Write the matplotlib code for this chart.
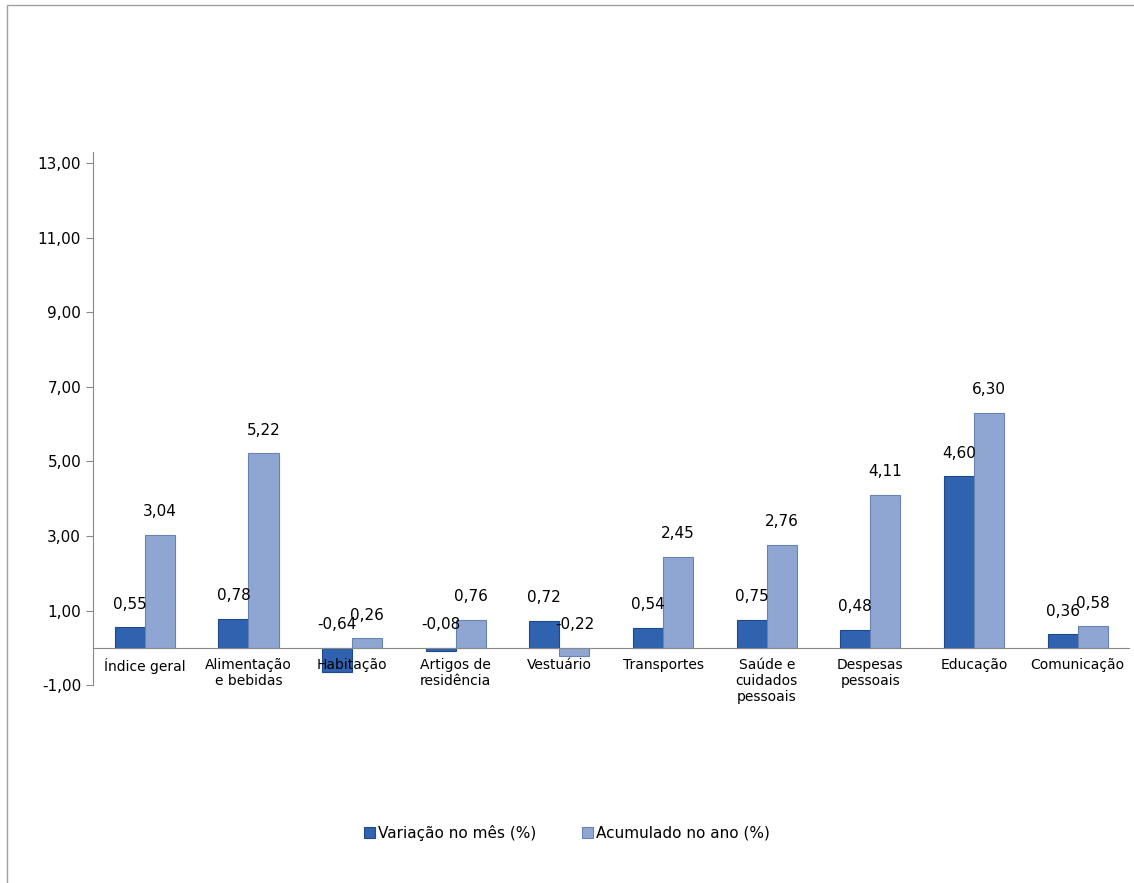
import numpy as np
import matplotlib.pyplot as plt
from matplotlib.patches import Rectangle

categorias = ['Índice geral', 'Alimentação\ne bebidas', 'Habitação', 'Artigos de\nresidência',
              'Vestuário', 'Transportes', 'Saúde e\ncuidados\npessoais', 'Despesas\npessoais',
              'Educação', 'Comunicação']
variacao_mes = [0.55, 0.78, -0.64, -0.08, 0.72, 0.54, 0.75, 0.48, 4.60, 0.36]
acumulado_ano = [3.04, 5.22, 0.26, 0.76, -0.22, 2.45, 2.76, 4.11, 6.30, 0.58]

fig = plt.figure(figsize=(11.34, 8.83), dpi=100)
fig.add_artist(Rectangle((0.006, -0.01), 1.1, 1.004, transform=fig.transFigure,
                         fill=False, edgecolor='#a0a0a0', lw=1))
ax = fig.add_axes([0.082, 0.224, 0.914, 0.604])

x = np.arange(len(categorias))
w = 0.29
b1 = ax.bar(x - w / 2, variacao_mes, w, color='#2f63b0', edgecolor='#1f4a8a', lw=0.8,
            label='Variação no mês (%)')
b2 = ax.bar(x + w / 2, acumulado_ano, w, color='#8fa6d2', edgecolor='#6a82b3', lw=0.8,
            label='Acumulado no ano (%)')

def fmt(v):
    return f'{v:.2f}'.replace('.', ',')

for xs, vals in ((x - w / 2, variacao_mes), (x + w / 2, acumulado_ano)):
    for xi, v in zip(xs, vals):
        ax.text(xi, max(v, 0) + 0.42, fmt(v), ha='center', va='bottom', fontsize=11)

ax.set_xlim(-0.5, len(categorias) - 0.5)
ax.set_ylim(-1, 13.3)
ax.set_yticks(np.arange(-1, 14, 2))
ax.set_yticklabels([fmt(v) for v in np.arange(-1, 14, 2)], fontsize=11)
ax.set_xticks(x)
ax.set_xticklabels(categorias, fontsize=11, linespacing=1.3)
ax.tick_params(axis='x', length=0, pad=7)
ax.spines['bottom'].set_position(('data', 0))
ax.spines['bottom'].set_color('#888888')
ax.spines['left'].set_color('#888888')
ax.spines['top'].set_visible(False)
ax.spines['right'].set_visible(False)
ax.tick_params(axis='y', color='#888888', length=5)

fig.legend(handles=[b1, b2], loc='center', bbox_to_anchor=(0.5, 0.057), ncol=2, frameon=False,
           fontsize=11, handlelength=0.7, handleheight=0.7, handletextpad=0.2, columnspacing=3)

fig.savefig('out.png')
